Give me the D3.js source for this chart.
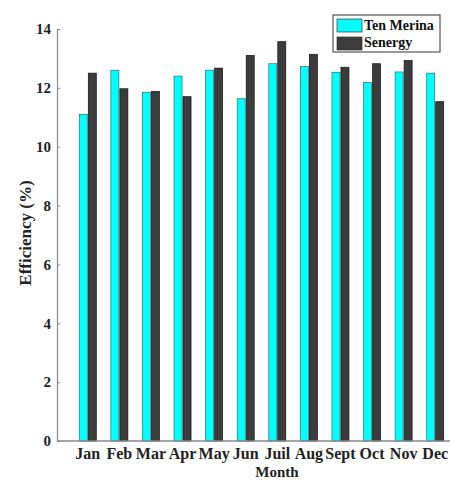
<!DOCTYPE html>
<html>
    <head>
        <meta charset="UTF-8" />
        <title>Efficiency</title>
        <script src="https://cdn.jsdelivr.net/npm/d3@7/dist/d3.min.js"></script>
        <style>
            body { margin: 0; background: #fff; }
            svg { display: block; }
            text { font-family: "Liberation Serif", "Times New Roman", serif; font-weight: bold; }
        </style>
    </head>
    <body>
        <svg id="chart" width="450" height="481"></svg>
        <script>
            var months = ["Jan", "Feb", "Mar", "Apr", "May", "Jun", "Juil", "Aug", "Sept", "Oct", "Nov", "Dec"]
            var tenMerina = [11.1, 12.6, 11.85, 12.4, 12.6, 11.63, 12.82, 12.73, 12.53, 12.18, 12.54, 12.5]
            var senergy = [12.5, 11.97, 11.88, 11.7, 12.67, 13.1, 13.57, 13.14, 12.7, 12.82, 12.93, 11.53]
            var seriesNames = ["Ten Merina", "Senergy"]
            var seriesColors = ["#00ffff", "#3c3c3c"]
            var yTicks = [0, 2, 4, 6, 8, 10, 12, 14]

            var svg = d3.select("#chart")

            var xScale = d3.scaleBand().domain(months).range([72, 451])
            var yScale = d3.scaleLinear().domain([0, 14]).range([441, 29])

            var barW = 8

            // bars
            var series = [tenMerina, senergy]
            series.forEach(function (vals, s) {
                svg.append("g").selectAll("rect")
                    .data(vals)
                    .enter()
                    .append("rect")
                    .attr("x", (d, i) => xScale(months[i]) + xScale.bandwidth() / 2 + (s == 0 ? -barW - 0.5 : 0.5))
                    .attr("y", d => yScale(d))
                    .attr("width", barW)
                    .attr("height", d => yScale(0) - yScale(d))
                    .attr("fill", seriesColors[s])
                    .attr("stroke", s == 0 ? "#2a6e6e" : "#111")
                    .attr("stroke-width", 0.7)
            })

            // y axis
            var yAxis = d3.axisRight(yScale).tickValues(yTicks).tickSize(3).tickFormat(d3.format("d"))
            var yG = svg.append("g").attr("transform", "translate(57, 0)").call(yAxis)
            yG.select(".domain").attr("stroke", "#888").attr("stroke-width", 1.2)
            yG.selectAll(".tick line").attr("stroke", "#888")
            yG.selectAll(".tick text")
                .attr("x", -6)
                .attr("text-anchor", "end")
                .attr("fill", "#222")
                .style("font-size", "15px")

            // x axis
            var xAxis = d3.axisBottom(xScale).tickSize(0)
            var xG = svg.append("g").attr("transform", "translate(0, 441)").call(xAxis)
            xG.select(".domain").attr("d", "M57,0H450").attr("stroke", "#888").attr("stroke-width", 1.5)
            xG.selectAll(".tick text")
                .attr("dy", 0)
                .attr("y", 18)
                .attr("fill", "#222")
                .style("font-size", "16px")

            // axis titles
            svg.append("text")
                .attr("x", 277)
                .attr("y", 477)
                .attr("text-anchor", "middle")
                .style("font-size", "15px")
                .attr("fill", "#222")
                .text("Month")

            svg.append("text")
                .attr("transform", "translate(31, 233) rotate(-90)")
                .attr("text-anchor", "middle")
                .style("font-size", "17px")
                .attr("fill", "#222")
                .text("Efficiency (%)")

            // legend
            var legend = svg.append("g").attr("transform", "translate(333, 15)")
            legend.append("rect")
                .attr("width", 107)
                .attr("height", 37)
                .attr("fill", "#fff")
                .attr("stroke", "#333")
                .attr("stroke-width", 1)
            seriesNames.forEach(function (name, s) {
                legend.append("rect")
                    .attr("x", 4)
                    .attr("y", 4 + s * 18)
                    .attr("width", 25)
                    .attr("height", 13)
                    .attr("fill", seriesColors[s])
                    .attr("stroke", "#333")
                    .attr("stroke-width", 0.7)
                legend.append("text")
                    .attr("x", 31)
                    .attr("y", 15 + s * 17)
                    .style("font-size", "14px")
                    .attr("fill", "#111")
                    .text(name)
            })
        </script>
    </body>
</html>
